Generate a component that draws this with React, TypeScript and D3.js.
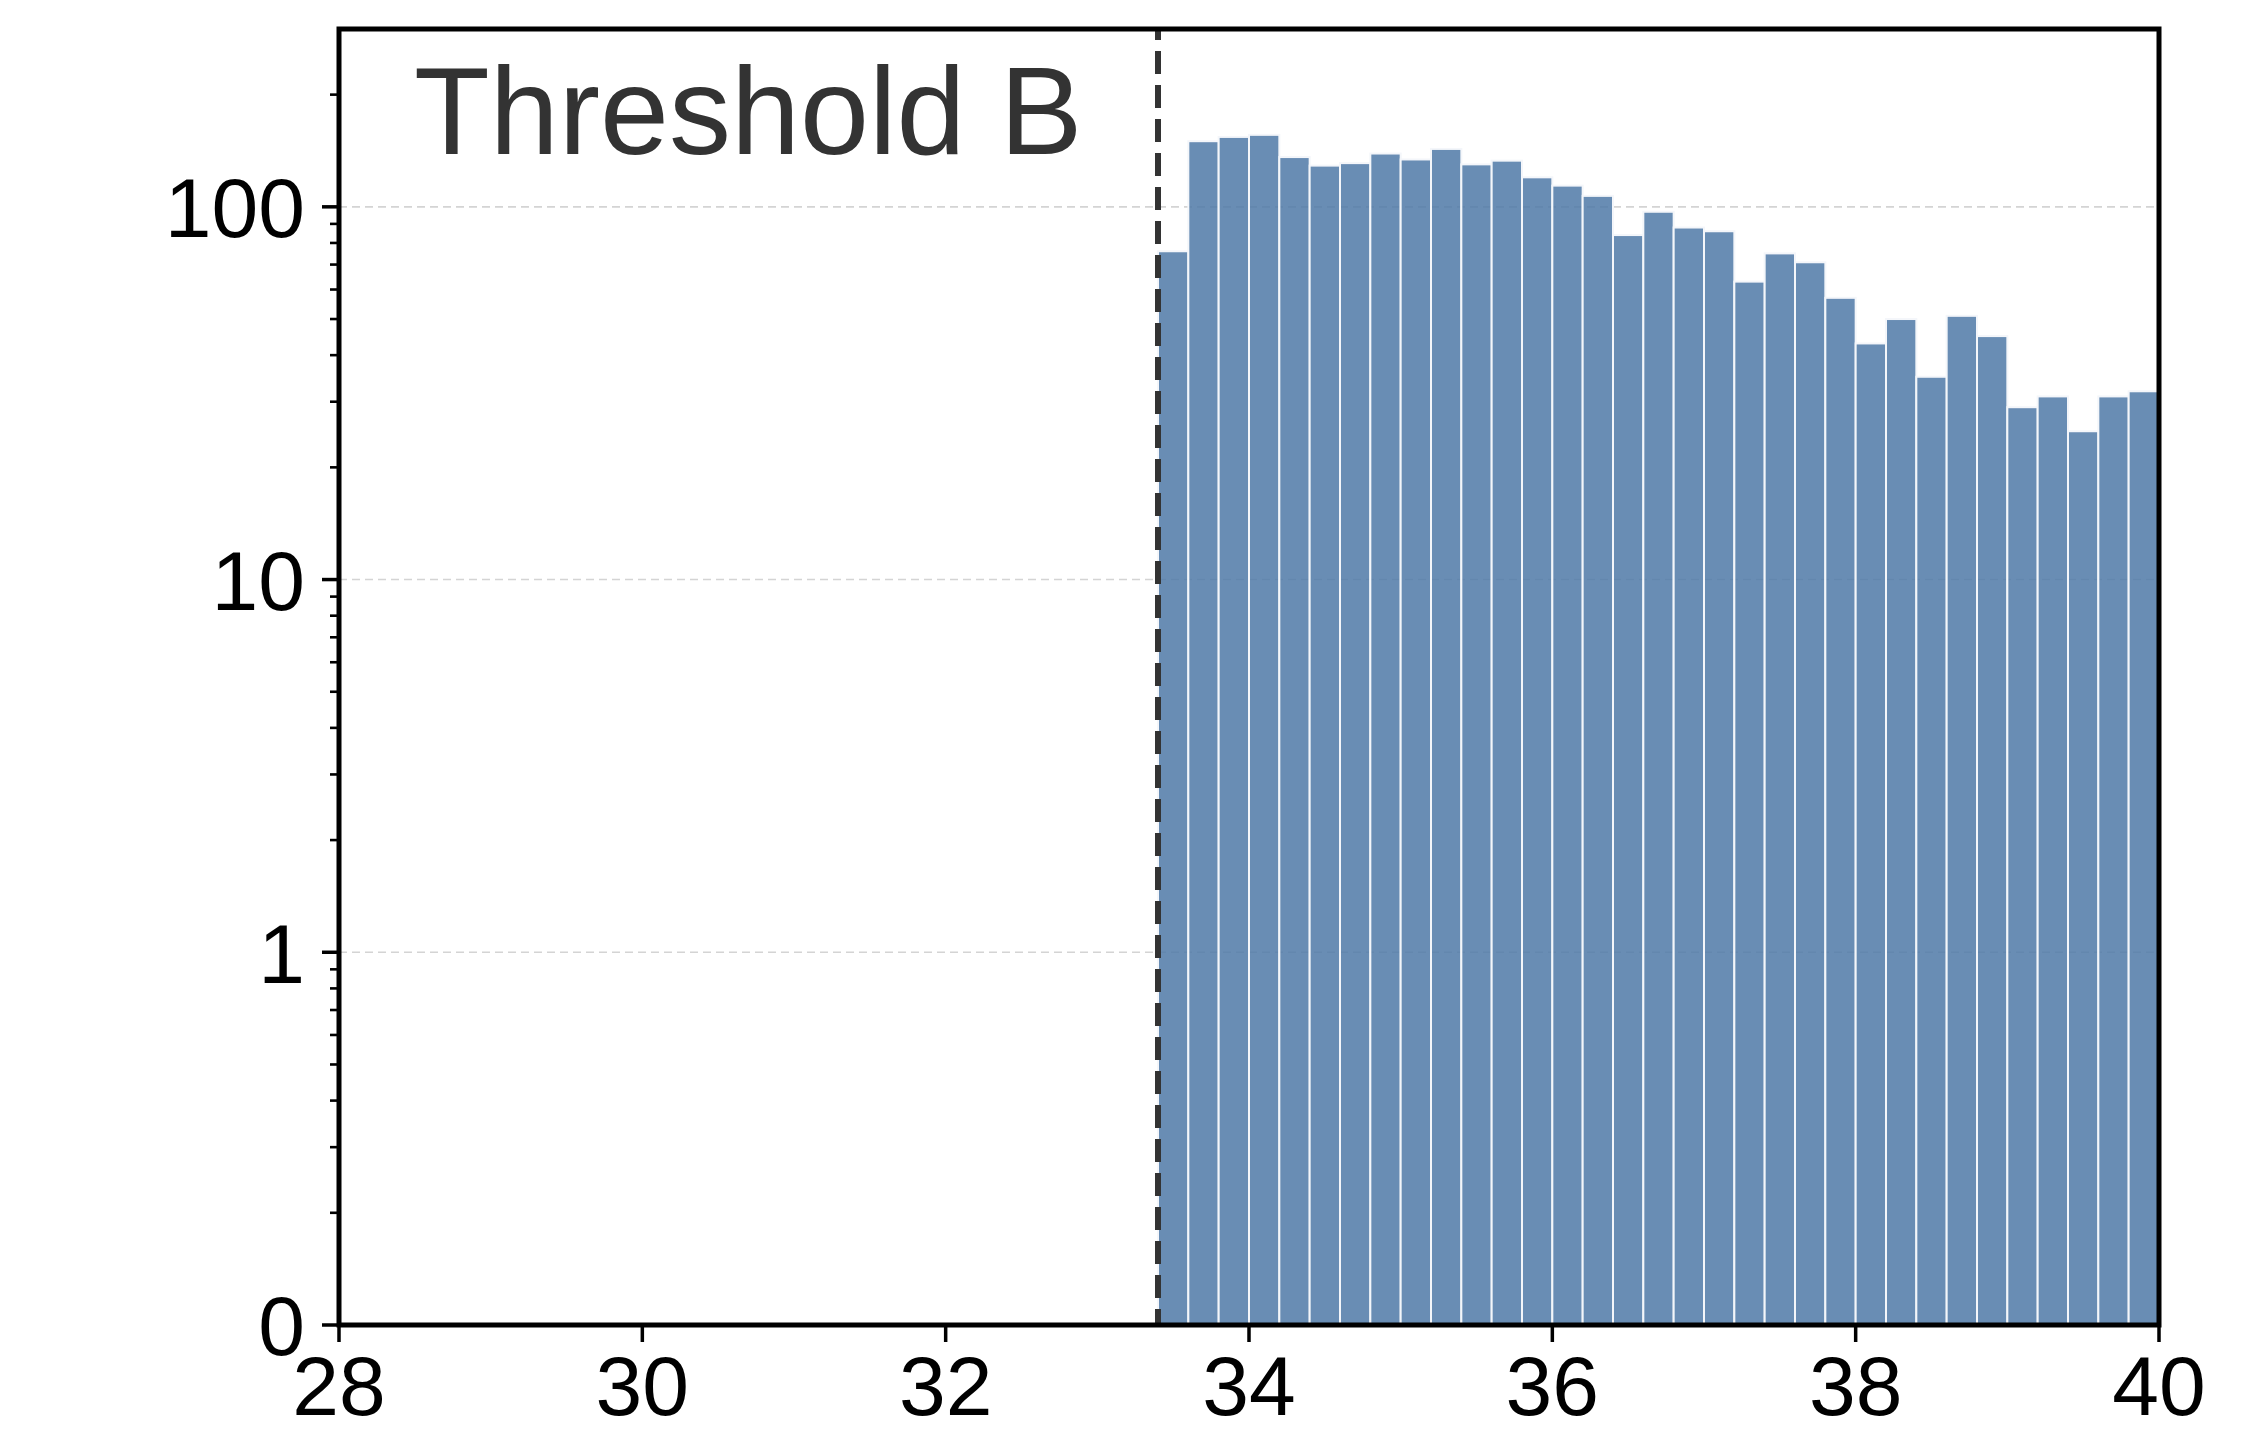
import React from "react";
import * as d3 from "d3";

const binStarts = [
  33.4, 33.6, 33.8, 34.0, 34.2, 34.4, 34.6, 34.8, 35.0, 35.2, 35.4,
  35.6, 35.8, 36.0, 36.2, 36.4, 36.6, 36.8, 37.0, 37.2, 37.4, 37.6,
  37.8, 38.0, 38.2, 38.4, 38.6, 38.8, 39.0, 39.2, 39.4, 39.6, 39.8,
];
const counts = [
  76, 150, 154, 156, 136, 129, 131, 139, 134, 143, 130,
  133, 120, 114, 107, 84, 97, 88, 86, 63, 75, 71,
  57, 43, 50, 35, 51, 45, 29, 31, 25, 31, 32,
];
const binWidth = 0.2;
const thresholdValue = 33.4;
const titleText = "Threshold B";
const xTickValues = [28, 30, 32, 34, 36, 38, 40];
const yTickValues = [0.1, 1, 10, 100];
const yTickLabels = ["0", "1", "10", "100"];
const gridValues = [1, 10, 100];

const W = 2250;
const H = 1440;
const L = 339;
const R = 2159;
const T = 29;
const B = 1325;
const FONT = "'Liberation Sans', Arial, Helvetica, sans-serif";

export default function App() {
  const x = d3.scaleLinear().domain([28, 40]).range([L, R]);
  const y = d3.scaleLog().domain([0.1, 300]).range([B, T]);

  const minor: number[] = [];
  [0.1, 1, 10, 100].forEach((dec) => {
    for (let k = 2; k <= 9; k++) {
      const v = dec * k;
      if (v < 300) minor.push(v);
    }
  });

  return (
    <svg
      width={W}
      height={H}
      style={{ position: "absolute", left: 0, top: 0, display: "block", background: "#fff" }}
    >
      <rect x={0} y={0} width={W} height={H} fill="#fff" />
      {gridValues.map((v) => (
        <line
          key={"g" + v}
          x1={L}
          x2={R}
          y1={y(v)}
          y2={y(v)}
          stroke="#d4d4d4"
          strokeWidth={1.6}
          strokeDasharray="8,5"
        />
      ))}
      {binStarts.map((s, i) => (
        <rect
          key={"b" + i}
          x={x(s)}
          y={y(counts[i])}
          width={x(s + binWidth) - x(s)}
          height={B - y(counts[i])}
          fill="#4f79a7"
          fillOpacity={0.85}
          stroke="#f4f6fa"
          strokeWidth={2}
        />
      ))}
      <line
        x1={x(thresholdValue)}
        x2={x(thresholdValue)}
        y1={T}
        y2={B}
        stroke="#333333"
        strokeWidth={6}
        strokeDasharray="23,11"
        strokeDashoffset={12}
      />
      {/* spines */}
      <rect x={L} y={T} width={R - L} height={B - T} fill="none" stroke="#000" strokeWidth={5} />
      {/* y major ticks */}
      {yTickValues.map((v, i) => (
        <g key={"yt" + v}>
          <line x1={L - 17} x2={L} y1={y(v)} y2={y(v)} stroke="#000" strokeWidth={3.5} />
          <text
            x={L - 34}
            y={y(v)}
            dy="0.36em"
            textAnchor="end"
            fontFamily={FONT}
            fontSize={84}
            fill="#000"
          >
            {yTickLabels[i]}
          </text>
        </g>
      ))}
      {minor.map((v) => (
        <line key={"ym" + v} x1={L - 9} x2={L} y1={y(v)} y2={y(v)} stroke="#000" strokeWidth={2.6} />
      ))}
      {xTickValues.map((v) => (
        <g key={"xt" + v}>
          <line x1={x(v)} x2={x(v)} y1={B} y2={B + 17} stroke="#000" strokeWidth={3.5} />
          <text
            x={x(v)}
            y={B + 90}
            textAnchor="middle"
            fontFamily={FONT}
            fontSize={84}
            fill="#000"
          >
            {v}
          </text>
        </g>
      ))}
      <text x={414} y={154} fontFamily={FONT} fontSize={124} fill="#333333">
        {titleText}
      </text>
    </svg>
  );
}
